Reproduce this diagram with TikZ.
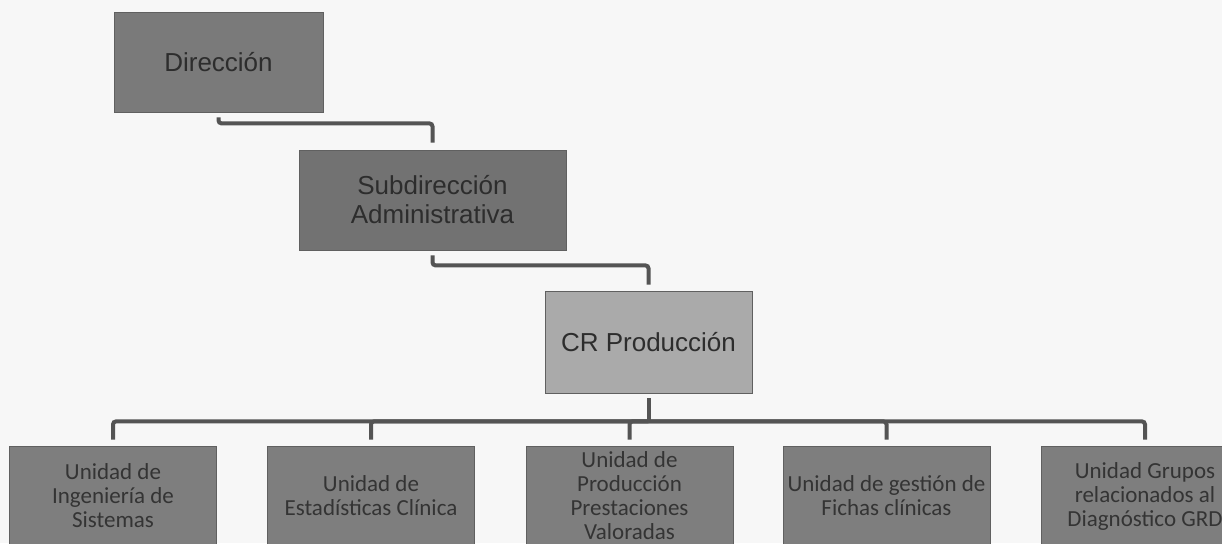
\documentclass[tikz,border=0pt]{standalone}
\usepackage{fontspec}
\setmainfont{Liberation Sans}
\newfontfamily\unitfont{Carlito}
\definecolor{paper}{RGB}{247,247,247}
\definecolor{dirgray}{RGB}{122,122,122}
\definecolor{subgray}{RGB}{114,114,114}
\definecolor{crgray}{RGB}{170,170,170}
\definecolor{unitgray}{RGB}{126,126,126}
\definecolor{boxedge}{RGB}{96,96,96}
\definecolor{linegray}{RGB}{84,84,84}
\definecolor{inktop}{RGB}{45,45,45}
\definecolor{inkunit}{RGB}{52,52,52}
\begin{document}
\begin{tikzpicture}[x=0.5pt,y=-0.5pt,
  headbox/.style={draw=boxedge, inner sep=0pt, align=center, text=inktop,
    font=\fontsize{13}{14.5}\selectfont},
  unitbox/.style={draw=boxedge, fill=unitgray, inner sep=0pt, align=center, text=inkunit,
    minimum width=103.5pt, minimum height=50pt, font=\unitfont\fontsize{11.5}{12}\selectfont},
  conn/.style={draw=linegray, line width=2pt, rounded corners=1.5pt}]
\useasboundingbox (0,0) rectangle (1222,543);
\fill[paper] (0,0) rectangle (1222,543);
\clip (0,0) rectangle (1222,543);
\node[headbox, fill=dirgray, minimum width=104.5pt, minimum height=50pt] (dir) at (218.5,62) {Dirección};
\node[headbox, fill=subgray, minimum width=133.5pt, minimum height=50pt] (sub) at (432.5,200) {Subdirección\\Administrativa};
\node[headbox, fill=crgray, minimum width=103.5pt, minimum height=51pt] (cr) at (648.5,342) {CR Producción};
\node[unitbox] (u1) at (113,496) {Unidad de\\Ingeniería de\\Sistemas};
\node[unitbox] (u2) at (371,496) {Unidad de\\Estadísticas Clínica};
\node[unitbox] (u3) at (629.5,496) {Unidad de\\Producción\\Prestaciones\\Valoradas};
\node[unitbox] (u4) at (886.5,496) {Unidad de gestión de\\Fichas clínicas};
\node[unitbox] (u5) at (1145,496) {Unidad Grupos\\relacionados al\\Diagnóstico GRD};
\draw[conn, shorten <=2.5pt, shorten >=3.5pt] (dir.south) -- ++(0,11) -| (sub.north);
\draw[conn, shorten <=2.5pt, shorten >=3pt] (sub.south) -- ++(0,15) -| (cr.north);
\draw[conn, shorten <=2.5pt] (cr.south) -- ++(0,28) coordinate (bar);
\foreach \u in {u1,u2,u3,u4,u5}
  \draw[conn, shorten >=3pt] (bar) -| (\u.north);
\end{tikzpicture}
\end{document}
